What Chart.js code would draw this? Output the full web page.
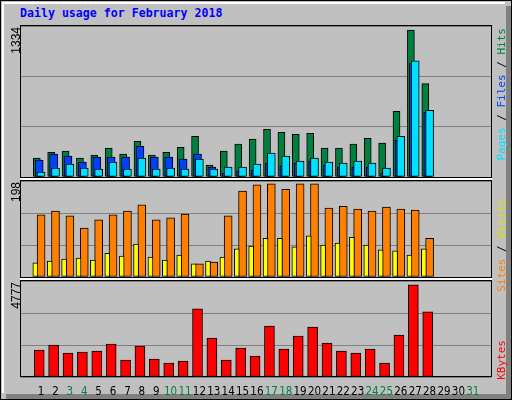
<!DOCTYPE html>
<html>
<head>
<meta charset="utf-8">
<script src="https://cdn.jsdelivr.net/npm/chart.js@4"></script>
<style>
  body { margin: 0; width: 512px; height: 400px; overflow: hidden; background: #c0c0c0; }
  #frame { position: absolute; left: 0; top: 0; width: 512px; height: 400px; box-sizing: border-box;
           border: 1px solid #000; }
  #hl { position: absolute; left: 1px; top: 1px; right: 6px; bottom: 6px; border-top: 2px solid #fff; border-left: 2px solid #fff; }
  #shR { position: absolute; right: 1px; top: 6px; width: 5px; bottom: 1px; background: #808080; }
  #shB { position: absolute; left: 6px; bottom: 1px; height: 5px; right: 1px; background: #808080; }
  .panel { position: absolute; }
  .box { position: absolute; box-sizing: border-box; border: 1px solid #000; pointer-events: none; }
  .sep { position: absolute; left: 20px; width: 472px; height: 2px; background: #fff; }
  #title { position: absolute; left: 20px; top: 6px; font: bold 11.6px "DejaVu Sans Mono", monospace; color: #0000ff; }
  .vlab { position: absolute; writing-mode: vertical-rl; transform: rotate(180deg); white-space: nowrap; }
  .ymax { font: 12px "Liberation Sans", sans-serif; color: #000; left: 9px; }
  .leg { font: 11px "DejaVu Sans Mono", monospace; left: 495px; }
</style>
</head>
<body>
<div id="frame"><div id="hl"></div></div>
<div id="shR"></div><div id="shB"></div>
<div id="title">Daily usage for February 2018</div>

<div class="panel" style="left:21px;top:26px;width:470px;height:151px"><canvas id="c1"></canvas></div>
<div class="panel" style="left:21px;top:181px;width:470px;height:96px"><canvas id="c2"></canvas></div>
<div class="panel" style="left:21px;top:281px;width:470px;height:115px"><canvas id="c3"></canvas></div>
<div class="box" style="left:20px;top:25px;width:472px;height:153px"></div>
<div class="sep" style="top:178px"></div>
<div class="box" style="left:20px;top:180px;width:472px;height:98px"></div>
<div class="sep" style="top:278px"></div>
<div class="box" style="left:20px;top:280px;width:472px;height:97px"></div>

<div class="vlab ymax" style="top:27px">1334</div>
<div class="vlab ymax" style="top:182px">198</div>
<div class="vlab ymax" style="top:282px">4777</div>

<div class="vlab leg" style="top:28px"><span style="color:#00e0ff">Pages</span> / <span style="color:#0040ff">Files</span> / <span style="color:#008040">Hits</span></div>
<div class="vlab leg" style="top:199px"><span style="color:#ff8000">Sites</span> / <span style="color:#e0e000">Visits</span></div>
<div class="vlab leg" style="top:340px;color:#ff0000">KBytes</div>

<script>
const days = Array.from({ length: 31 }, (_, i) => i + 1);
const weekendDays = [3, 4, 10, 11, 17, 18, 24, 25, 31];

const hits   = [167,219,228,167,193,255,202,316,193,219,263,360,105,228,290,334,421,395,378,386,255,255,290,342,299,580,1299,825];
const files  = [149,202,184,132,175,175,175,272,175,175,158,202,88,35,53,60,123,97,123,140,105,88,88,88,35,325,1001,571];
const pages  = [44,79,114,79,70,132,70,167,70,79,70,158,70,88,88,114,211,184,140,167,132,123,140,123,79,360,1027,588];
const visits = [29,33,37,39,35,49,43,68,41,35,45,27,33,41,58,64,80,80,62,85,66,70,82,66,56,54,45,58];
const sites  = [128,136,126,101,118,128,136,149,118,122,130,27,31,126,177,190,192,181,192,192,142,146,140,136,144,140,138,80];
const kbytes = [1344,1593,1195,1245,1295,1643,847,1543,896,697,797,3386,1942,847,1444,1046,2540,1394,2042,2490,1693,1295,1195,1394,697,2092,4582,3237];

const maxHits = 1334, maxSites = 198, maxKB = 4777;
const X_MIN = 0.13, X_MAX = 31.74;

function series(values, offset) {
    return values.map((v, i) => ({ x: days[i] + offset, y: v }));
}

function bar(values, offset, color, width, order) {
    return {
        data: series(values, offset),
        backgroundColor: color,
        borderColor: '#000',
        borderWidth: 1,
        borderSkipped: false,
        barThickness: width,
        grouped: false,
        order: order,
    };
}

function makeChart(id, datasets, yMax, showDays) {
    new Chart(document.getElementById(id), {
        type: 'bar',
        data: { datasets: datasets },
        options: {
            responsive: true,
            maintainAspectRatio: false,
            animation: false,
            layout: { padding: 0 },
            plugins: { legend: { display: false }, tooltip: { enabled: false } },
            scales: {
                x: {
                    type: 'linear',
                    min: X_MIN,
                    max: X_MAX,
                    display: showDays,
                    grid: { display: false },
                    border: { display: false },
                    afterBuildTicks: s => { s.ticks = days.map(d => ({ value: d })); },
                    afterFit: s => { s.height = showDays ? 19 : 0; },
                    ticks: {
                        padding: 0,
                        autoSkip: false,
                        maxRotation: 0,
                        font: { family: 'DejaVu Sans Condensed, Liberation Sans', size: 11.5 },
                        color: c => weekendDays.includes(c.tick.value) ? '#008040' : '#000',
                        callback: v => String(v),
                    },
                },
                y: {
                    min: 0,
                    max: yMax,
                    afterBuildTicks: s => { s.ticks = [0, 1, 2, 3].map(k => ({ value: yMax * k / 3 })); },
                    afterFit: s => { s.width = 0; },
                    ticks: { display: false },
                    grid: { color: '#808080', lineWidth: 1, drawTicks: false },
                    border: { display: false },
                },
            },
        },
    });
}

makeChart('c1', [
    bar(hits, -0.3, '#008040', 7, 3),
    bar(files, -0.13, '#0040ff', 8, 2),
    bar(pages, 0, '#00e0ff', 8, 1),
], maxHits, false);

makeChart('c2', [
    bar(visits, -0.4, '#ffff00', 5, 1),
    bar(sites, 0, '#ff8000', 8, 2),
], maxSites, false);

makeChart('c3', [
    bar(kbytes, -0.13, '#ff0000', 10, 1),
], maxKB, true);
</script>
</body>
</html>
